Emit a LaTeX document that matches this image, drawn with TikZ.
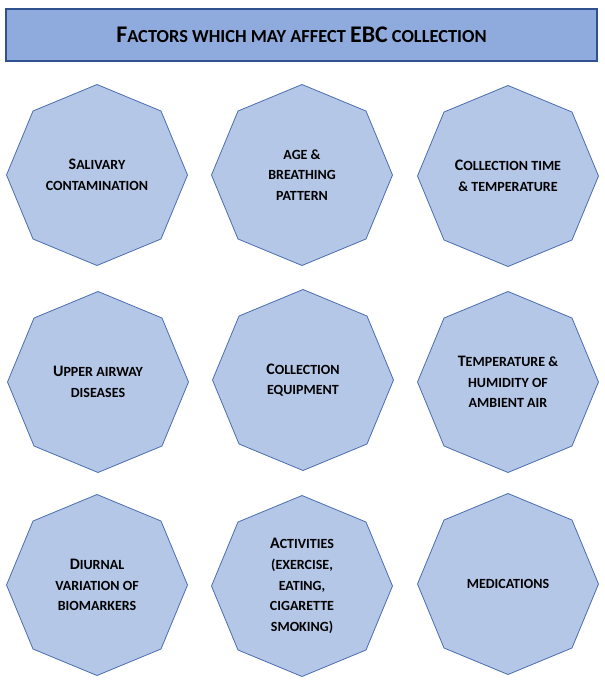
\documentclass[tikz,border=0pt]{standalone}
\usepackage{fontspec}
\setmainfont{Carlito}
\usetikzlibrary{shapes.geometric}
\definecolor{octfill}{HTML}{B4C7E7}
\definecolor{octline}{HTML}{4A6DB0}
\definecolor{headfill}{HTML}{8FAADC}
\definecolor{headline}{HTML}{2F528F}
\newcommand{\firstcap}[1]{{\fontsize{12}{15.5}\selectfont #1}}
\newcommand{\headcap}[1]{{\fontsize{17.9}{20}\selectfont #1}}

\begin{document}
\begin{tikzpicture}
		[x=0.75pt, y=-0.75pt,
		factor/.style={draw=octline, fill=octfill, line width=0.6pt,
			regular polygon, regular polygon sides=8, shape border rotate=22.5,
			minimum size=135.75pt, inner sep=0pt, align=center,
			font=\bfseries\fontsize{10.5}{15.5}\selectfont},
		heading/.style={draw=headline, fill=headfill, line width=1.5pt,
			minimum width=443.25pt, minimum height=39pt, inner sep=0pt,
			font=\bfseries\fontsize{13.8}{16}\selectfont}]
		\useasboundingbox (0,0) rectangle (605,687);

		\node[heading] (title) at (301.5,35) {\headcap{F}ACTORS WHICH MAY AFFECT \headcap{EBC} COLLECTION};

		\node[factor] (saliva) at (97,175) {\firstcap{S}ALIVARY\\CONTAMINATION};
		\node[factor] (breath) at (302,175) {AGE \&\\BREATHING\\PATTERN};
		\node[factor] (coltime) at (508,176) {\firstcap{C}OLLECTION TIME\\\& TEMPERATURE};

		\node[factor] (airway) at (98,382) {\firstcap{U}PPER AIRWAY\\DISEASES};
		\node[factor] (equip) at (303,380) {\firstcap{C}OLLECTION\\EQUIPMENT};
		\node[factor] (ambient) at (508,382) {\firstcap{T}EMPERATURE \&\\HUMIDITY OF\\AMBIENT AIR};

		\node[factor] (diurnal) at (97,585) {\firstcap{D}IURNAL\\VARIATION OF\\BIOMARKERS};
		\node[factor] (activ) at (302,586) {\firstcap{A}CTIVITIES\\(EXERCISE,\\EATING,\\CIGARETTE\\SMOKING)};
		\node[factor] (meds) at (508,584) {MEDICATIONS};
	\end{tikzpicture}
\end{document}
